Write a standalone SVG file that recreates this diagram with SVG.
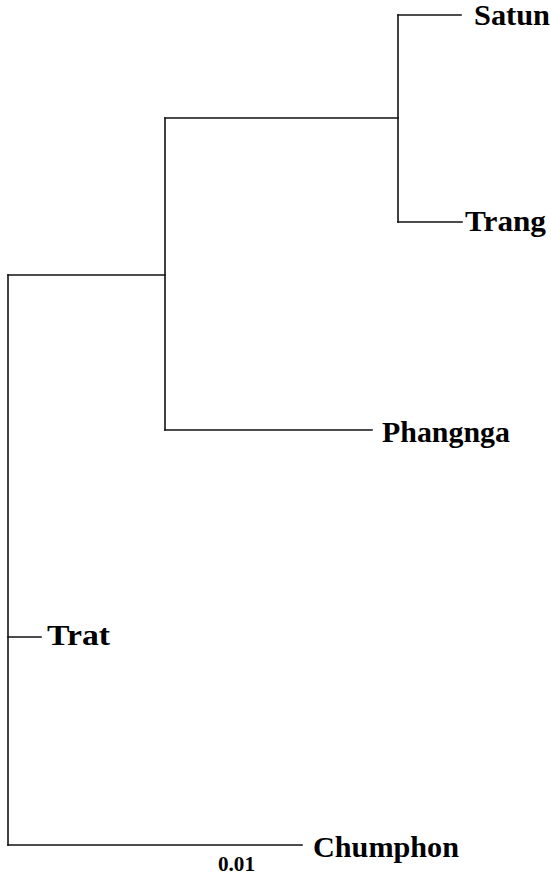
<svg xmlns="http://www.w3.org/2000/svg" width="551" height="878" viewBox="0 0 551 878">
<style>
.e{stroke:#111;stroke-width:1.6;fill:none;stroke-linecap:square}
.t{font-family:"Liberation Serif",serif;font-weight:bold;font-size:29px;fill:#000}
.s{font-family:"Liberation Serif",serif;font-weight:bold;font-size:21px;fill:#000}
</style>
<rect width="551" height="878" fill="#fff"/>
<g id="connectors">
<path class="e" d="M8,275 V845"/>
<path class="e" d="M8,275 H165"/>
<path class="e" d="M165,118 V430"/>
<path class="e" d="M165,118 H398"/>
<path class="e" d="M398,15 V222"/>
<path class="e" d="M398,15 H461"/>
<path class="e" d="M398,222 H462"/>
<path class="e" d="M165,430 H372"/>
<path class="e" d="M8,637 H41"/>
<path class="e" d="M8,845 H302"/>
</g>
<g id="satun"><text class="t" x="474" y="25" textLength="76" lengthAdjust="spacingAndGlyphs">Satun</text></g>
<g id="trang"><text class="t" x="465" y="231" textLength="81" lengthAdjust="spacingAndGlyphs">Trang</text></g>
<g id="phangnga"><text class="t" x="382" y="442" textLength="128" lengthAdjust="spacingAndGlyphs">Phangnga</text></g>
<g id="trat"><text class="t" x="47" y="645" textLength="63" lengthAdjust="spacingAndGlyphs">Trat</text></g>
<g id="chumphon"><text class="t" x="313" y="857" textLength="146" lengthAdjust="spacingAndGlyphs">Chumphon</text></g>
<g id="scale"><text class="s" x="218" y="871" textLength="37" lengthAdjust="spacingAndGlyphs">0.01</text></g>
</svg>
